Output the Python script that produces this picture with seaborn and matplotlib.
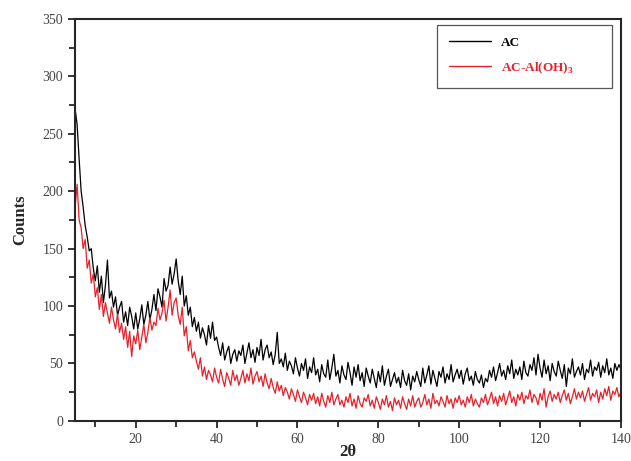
import numpy as np
import pandas as pd
import matplotlib
matplotlib.use("Agg")
import matplotlib.pyplot as plt
import seaborn as sns
from matplotlib.ticker import MultipleLocator

# 2-theta grid of the read-off values (0.5 degree steps from 5 to 140)
two_theta = np.arange(5.0, 140.01, 0.5)

# AC counts (rows of 5 degrees)
ac_counts = [
    272, 258, 228, 200, 186, 170, 160, 148, 150, 133,
    122, 135, 112, 126, 103, 118, 140, 107, 113, 99,
    108, 92, 99, 104, 86, 95, 83, 99, 91, 80,
    94, 80, 89, 101, 84, 92, 104, 88, 97, 110,
    96, 115, 108, 99, 124, 113, 118, 134, 119, 128,
    141, 122, 110, 126, 100, 109, 92, 99, 82, 90,
    78, 86, 72, 81, 75, 66, 83, 72, 86, 70,
    73, 64, 57, 68, 53, 60, 65, 50, 58, 62,
    52, 61, 57, 66, 50, 59, 68, 55, 62, 51,
    64, 57, 71, 53, 62, 66, 55, 60, 49, 58,
    77, 50, 54, 47, 59, 44, 52, 48, 41, 55,
    46, 39, 50, 44, 54, 37, 47, 42, 55, 40,
    45, 34, 49, 41, 38, 53, 36, 46, 58, 39,
    44, 33, 48, 40, 36, 51, 42, 31, 47, 38,
    49, 35, 42, 30, 46, 39, 33, 45, 37, 29,
    43, 34, 48, 31, 39, 45, 30, 36, 42, 33,
    38, 29, 44, 35, 31, 41, 27, 39, 34, 43,
    36, 30, 46, 33, 40, 48, 32, 44, 37, 30,
    43, 38, 47, 33, 41, 36, 49, 34, 40, 45,
    37, 44, 32, 41, 46, 35, 39, 31, 43, 36,
    33, 40, 29, 37, 34, 44, 38, 47, 35, 42,
    50, 39, 44, 36, 48, 41, 53, 37, 45, 40,
    47, 36, 52, 42, 39, 49, 44, 55, 40, 58,
    46, 38, 53, 41, 48, 35, 50, 43, 39, 52,
    44, 37, 49, 30, 46, 41, 54, 38, 43, 47,
    40, 50, 36, 45, 42, 53, 39, 47, 44, 51,
    38, 48, 42, 54, 40, 46, 37, 50, 44, 49,
    45,
]

# AC-Al(OH)3 counts
ac_aloh3_counts = [
    186, 206, 175, 168, 150, 158, 133, 140, 120, 128,
    108, 116, 97, 110, 91, 103, 94, 85, 99, 88,
    80, 93, 77, 85, 71, 82, 64, 78, 56, 74,
    67, 79, 62, 73, 84, 68, 77, 90, 79, 86,
    83, 98, 88, 94, 105, 87, 99, 114, 92, 103,
    107, 92, 84, 99, 74, 82, 61, 70, 55, 60,
    52, 45, 55, 39, 47, 36, 44, 40, 34, 46,
    38, 33, 45, 36, 30, 42, 37, 31, 44, 35,
    40, 31, 37, 44, 33, 41, 35, 46, 32, 39,
    43, 34, 39, 30, 41, 33, 28, 37, 29, 24,
    34, 26, 31, 22, 29, 25, 19, 28, 23, 17,
    27, 21, 16, 25, 20, 14, 23, 18, 24, 15,
    21, 13, 24, 17, 12, 22, 16, 25, 14, 19,
    23, 14, 18, 12, 21, 16, 24, 13, 19, 11,
    22, 15, 12, 20, 17, 23, 13, 18, 11, 21,
    16, 10, 19, 14, 22, 12, 17, 9, 20, 14,
    18, 11, 21, 15, 10, 19, 13, 22, 12, 17,
    20, 12, 16, 23, 14, 19, 11, 24, 15, 18,
    13, 21, 17, 12, 22, 15, 19, 11, 20, 16,
    22, 14, 18, 12, 21, 16, 23, 13, 19, 15,
    12, 20, 16, 23, 14, 19, 25, 15, 21, 13,
    22, 17, 24, 14, 20, 26, 16, 21, 13, 23,
    18, 25, 15, 22, 19, 27, 16, 23, 20, 14,
    24, 18, 28, 12, 21, 26, 17, 23, 19, 25,
    16, 22, 27, 18, 24, 15, 21, 28, 19, 25,
    20, 26, 17, 23, 29, 18, 24, 21, 27, 16,
    25, 19, 28, 22, 30, 18, 26, 23, 29, 21,
    25,
]

labels = ["AC", "AC-Al(OH)$_3$"]
colors = {"AC": "black", "AC-Al(OH)$_3$": "#e8202a"}

df = pd.concat([
    pd.DataFrame({"2theta": two_theta, "counts": ac_counts, "sample": labels[0]}),
    pd.DataFrame({"2theta": two_theta, "counts": ac_aloh3_counts, "sample": labels[1]}),
])

sns.set_style("ticks")
plt.rcParams["font.family"] = ["Liberation Serif", "DejaVu Serif"]
plt.rcParams["mathtext.fontset"] = "custom"
plt.rcParams["mathtext.rm"] = "Liberation Serif:bold"

fig = plt.figure(figsize=(6.31, 4.61), dpi=100)
ax = fig.add_axes([0.119, 0.087, 0.865, 0.872])

sns.lineplot(data=df, x="2theta", y="counts", hue="sample", palette=colors,
             hue_order=labels, linewidth=0.9, ax=ax, estimator=None, sort=False)

ax.set_xlim(5, 140)
ax.set_ylim(0, 350)
ax.set_xticks([20, 40, 60, 80, 100, 120, 140])
ax.xaxis.set_minor_locator(MultipleLocator(10))
ax.yaxis.set_major_locator(MultipleLocator(50))
ax.yaxis.set_minor_locator(MultipleLocator(25))
ax.tick_params(which="major", direction="out", length=5, width=1.3,
               labelsize=10, labelcolor="#444444")
ax.tick_params(which="minor", direction="out", length=4, width=1.3)
for s in ax.spines.values():
    s.set_linewidth(1.5)
    s.set_visible(True)

ax.set_xlabel("2θ", fontsize=12, fontweight="bold", labelpad=-1)
ax.set_ylabel("Counts", fontsize=12, fontweight="bold", labelpad=10)

# legend box spans a fixed width like the original
leg = ax.legend(loc="upper left", bbox_to_anchor=(0.663, 0.5, 0.3205, 0.485),
                mode="expand", borderaxespad=0,
                fancybox=False, framealpha=1, edgecolor="#555555",
                handlelength=3.2, handletextpad=0.75, borderpad=0.9,
                labelspacing=0.85, prop={"weight": "bold", "size": 9.5})
leg.get_frame().set_linewidth(0.9)
for txt, lab in zip(leg.get_texts(), labels):
    txt.set_color(colors[lab])
for ln in leg.get_lines():
    ln.set_linewidth(1.0)

fig.savefig("out.png", dpi=100)
